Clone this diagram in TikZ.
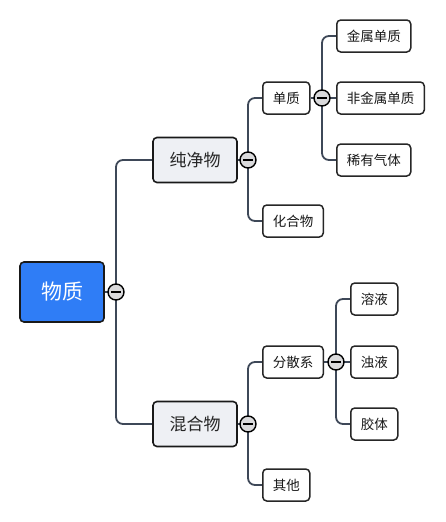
\documentclass[tikz,border=0pt]{standalone}
\usepackage{fontspec}
\setmainfont{Noto Sans CJK SC}
\usetikzlibrary{backgrounds}
\definecolor{rootblue}{RGB}{47,125,246}
\definecolor{linkgray}{RGB}{62,72,88}
\definecolor{midfill}{RGB}{238,240,244}
\definecolor{foldfill}{RGB}{218,218,220}
\begin{document}
\begin{tikzpicture}[x=1pt,y=-1pt,
    rootbox/.style={draw=black!90, line width=1.6pt, rounded corners=4pt, fill=rootblue,
      text=white, font=\fontsize{21}{24}\selectfont, minimum width=84pt, minimum height=60pt, inner sep=0pt},
    midbox/.style={draw=black!90, line width=1.6pt, rounded corners=4pt, fill=midfill,
      text=black!85, font=\fontsize{17}{20}\selectfont, minimum width=84pt, minimum height=45pt, inner sep=0pt},
    leaf/.style={draw=black!85, line width=1.5pt, rounded corners=4pt, fill=white, anchor=west,
      text=black!90, font=\fontsize{13.5}{16}\selectfont, inner xsep=10pt, inner ysep=0pt, minimum height=32pt},
    fold/.style={circle, draw=black, line width=1.4pt, fill=foldfill, minimum size=16pt, inner sep=0pt,
      path picture={\draw[line width=2.2pt] ([xshift=-5pt]path picture bounding box.center) -- ([xshift=5pt]path picture bounding box.center);}},
    link/.style={draw=linkgray, line width=1.8pt, rounded corners=7pt}]
  \useasboundingbox (0,0) rectangle (446,522);
  % root
  \node[rootbox] (wz) at (62,292) {物质};
  \node[fold] (wzf) at (116,292) {};
  % first level
  \node[midbox] (cjw) at (195,160) {纯净物};
  \node[fold] (cjwf) at (248,160) {};
  \node[midbox] (hhw) at (195,424) {混合物};
  \node[fold] (hhwf) at (248,424) {};
  % pure substances
  \node[leaf] (dz) at (262,98) {单质};
  \node[fold] (dzf) at (322,98) {};
  \node[leaf] (jsdz) at (336,36) {金属单质};
  \node[leaf] (fjsdz) at (336,98) {非金属单质};
  \node[leaf] (xyqt) at (336,160) {稀有气体};
  \node[leaf] (hhwu) at (262,221) {化合物};
  % mixtures
  \node[leaf] (fsx) at (262,362) {分散系};
  \node[fold] (fsxf) at (336,362) {};
  \node[leaf] (ry) at (350,299) {溶液};
  \node[leaf] (zy) at (350,362) {浊液};
  \node[leaf] (jt) at (350,424) {胶体};
  \node[leaf] (qt) at (262,485) {其他};
  % connectors
  \begin{scope}[on background layer]
    \draw[link] (wz.east) -- (wzf.center);
    \draw[link] (wzf.center) |- (cjw.west);
    \draw[link] (wzf.center) |- (hhw.west);
    \draw[link] (cjw.east) -- (cjwf.center);
    \draw[link] (cjwf.center) |- (dz.west);
    \draw[link] (cjwf.center) |- (hhwu.west);
    \draw[link] (dz.east) -- (dzf.center);
    \draw[link] (dzf.center) |- (jsdz.west);
    \draw[link] (dzf.center) -- (fjsdz.west);
    \draw[link] (dzf.center) |- (xyqt.west);
    \draw[link] (hhw.east) -- (hhwf.center);
    \draw[link] (hhwf.center) |- (fsx.west);
    \draw[link] (hhwf.center) |- (qt.west);
    \draw[link] (fsx.east) -- (fsxf.center);
    \draw[link] (fsxf.center) |- (ry.west);
    \draw[link] (fsxf.center) -- (zy.west);
    \draw[link] (fsxf.center) |- (jt.west);
  \end{scope}
\end{tikzpicture}
\end{document}
